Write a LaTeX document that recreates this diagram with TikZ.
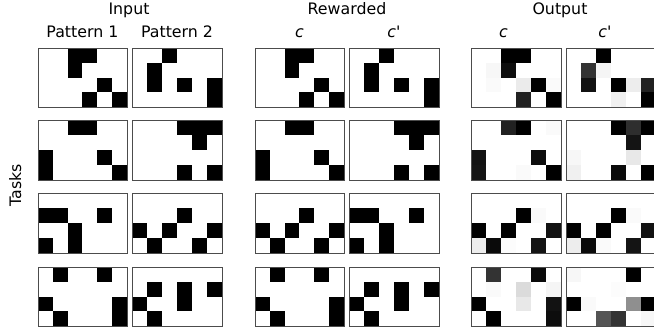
\documentclass[tikz,border=0pt]{standalone}
\usepackage{fontspec}
\setmainfont{DejaVu Sans}
\newfontfamily\plainfont{DejaVu Sans}
\usetikzlibrary{calc}
\def\cw{14.92}
\tikzset{
  panelbox/.style={draw=black!70, line width=1pt, minimum width=89.5pt, minimum height=59.7pt, inner sep=0pt, anchor=north west},
  lbl/.style={font=\fontsize{15.8}{19}\selectfont, inner sep=0pt, anchor=base},
}
\newcommand\drawpanel[3]{%
  \coordinate (#1) at #2;
  \foreach \cc/\rr/\gg in {#3} {\fill[black!\gg] ($(#1)+(\cc*\cw,\rr*\cw)$) rectangle ++(\cw,\cw);}
  \node[panelbox] (#1box) at (#1) {};
}
\newcommand\cprime{{\itshape c}{\plainfont'}}
\begin{document}
\begin{tikzpicture}[x=1pt,y=-1pt]
\useasboundingbox (0,0) rectangle (654,331);
% headers
\node[lbl] (hin) at (129,14.7) {Input};
\node[lbl] (hrw) at (347,14.7) {Rewarded};
\node[lbl] (hout) at (560,14.7) {Output};
\node[lbl] (hp1) at (82.4,37.7) {Pattern 1};
\node[lbl] (hp2) at (177,37.7) {Pattern 2};
\node[lbl] (hrc) at (299.4,37.7) {\itshape c};
\node[lbl] (hrcp) at (394,37.7) {\cprime};
\node[lbl] (hoc) at (503.5,37.7) {\itshape c};
\node[lbl] (hocp) at (605,37.7) {\cprime};
\node[lbl, rotate=90] (tasks) at (21.2,185) {Tasks};
% row 1
\drawpanel{a1}{(37.7,47.7)}{2/0/100,3/0/100,2/1/100,4/2/100,3/3/100,5/3/100}
\drawpanel{b1}{(132.3,47.7)}{2/0/100,1/1/100,1/2/100,3/2/100,5/2/100,5/3/100}
\drawpanel{c1}{(254.7,47.7)}{2/0/100,3/0/100,2/1/100,4/2/100,3/3/100,5/3/100}
\drawpanel{d1}{(349.3,47.7)}{2/0/100,1/1/100,1/2/100,3/2/100,5/2/100,5/3/100}
\drawpanel{e1}{(471.3,47.7)}{2/0/100,3/0/100,1/1/3,2/1/95,1/2/2,3/2/8,4/2/100,5/2/2,3/3/87,5/3/100}
\drawpanel{f1}{(566.3,47.7)}{2/0/100,1/1/80,2/1/4,1/2/93,3/2/100,4/2/7,5/2/87,3/3/6,5/3/100}
% row 2
\drawpanel{a2}{(37.7,120)}{2/0/100,3/0/100,0/2/100,4/2/100,0/3/100,5/3/100}
\drawpanel{b2}{(132.3,120)}{3/0/100,4/0/100,5/0/100,4/1/100,3/3/100,5/3/100}
\drawpanel{c2}{(254.7,120)}{2/0/100,3/0/100,0/2/100,4/2/100,0/3/100,5/3/100}
\drawpanel{d2}{(349.3,120)}{3/0/100,4/0/100,5/0/100,4/1/100,3/3/100,5/3/100}
\drawpanel{e2}{(471.3,120)}{2/0/87,3/0/100,5/0/2,0/2/93,4/2/95,0/3/92,3/3/2,5/3/100}
\drawpanel{f2}{(566.3,120)}{3/0/100,4/0/82,5/0/100,4/1/92,0/2/3,4/2/9,0/3/6,3/3/96,5/3/100}
% row 3
\drawpanel{a3}{(37.7,193.3)}{0/1/100,1/1/100,4/1/100,2/2/100,0/3/100,2/3/100}
\drawpanel{b3}{(132.3,193.3)}{3/1/100,0/2/100,2/2/100,5/2/100,1/3/100,4/3/100}
\drawpanel{c3}{(254.7,193.3)}{3/1/100,0/2/100,2/2/100,5/2/100,1/3/100,4/3/100}
\drawpanel{d3}{(349.3,193.3)}{0/1/100,1/1/100,4/1/100,2/2/100,0/3/100,2/3/100}
\drawpanel{e3}{(471.3,193.3)}{3/1/100,4/1/2,0/2/100,2/2/100,5/2/93,0/3/7,1/3/96,2/3/1,4/3/92}
\drawpanel{f3}{(566.3,193.3)}{3/1/100,4/1/2,0/2/100,2/2/100,5/2/93,0/3/7,1/3/96,2/3/2,4/3/92}
% row 4
\drawpanel{a4}{(37.7,266.7)}{1/0/100,4/0/100,0/2/100,5/2/100,1/3/100,5/3/100}
\drawpanel{b4}{(132.3,266.7)}{1/1/100,3/1/100,5/1/100,0/2/100,3/2/100,1/3/100}
\drawpanel{c4}{(254.7,266.7)}{1/0/100,4/0/100,0/2/100,5/2/100,1/3/100,5/3/100}
\drawpanel{d4}{(349.3,266.7)}{1/1/100,3/1/100,5/1/100,0/2/100,3/2/100,1/3/100}
\drawpanel{e4}{(471.3,266.7)}{1/0/80,4/0/96,1/1/2,3/1/14,5/1/4,0/2/100,3/2/9,5/2/93,1/3/100,5/3/95}
\drawpanel{f4}{(566.3,266.7)}{0/0/3,4/0/100,3/1/1,0/2/100,1/2/2,4/2/44,5/2/100,2/3/67,3/3/80,5/3/3}
\end{tikzpicture}
\end{document}
